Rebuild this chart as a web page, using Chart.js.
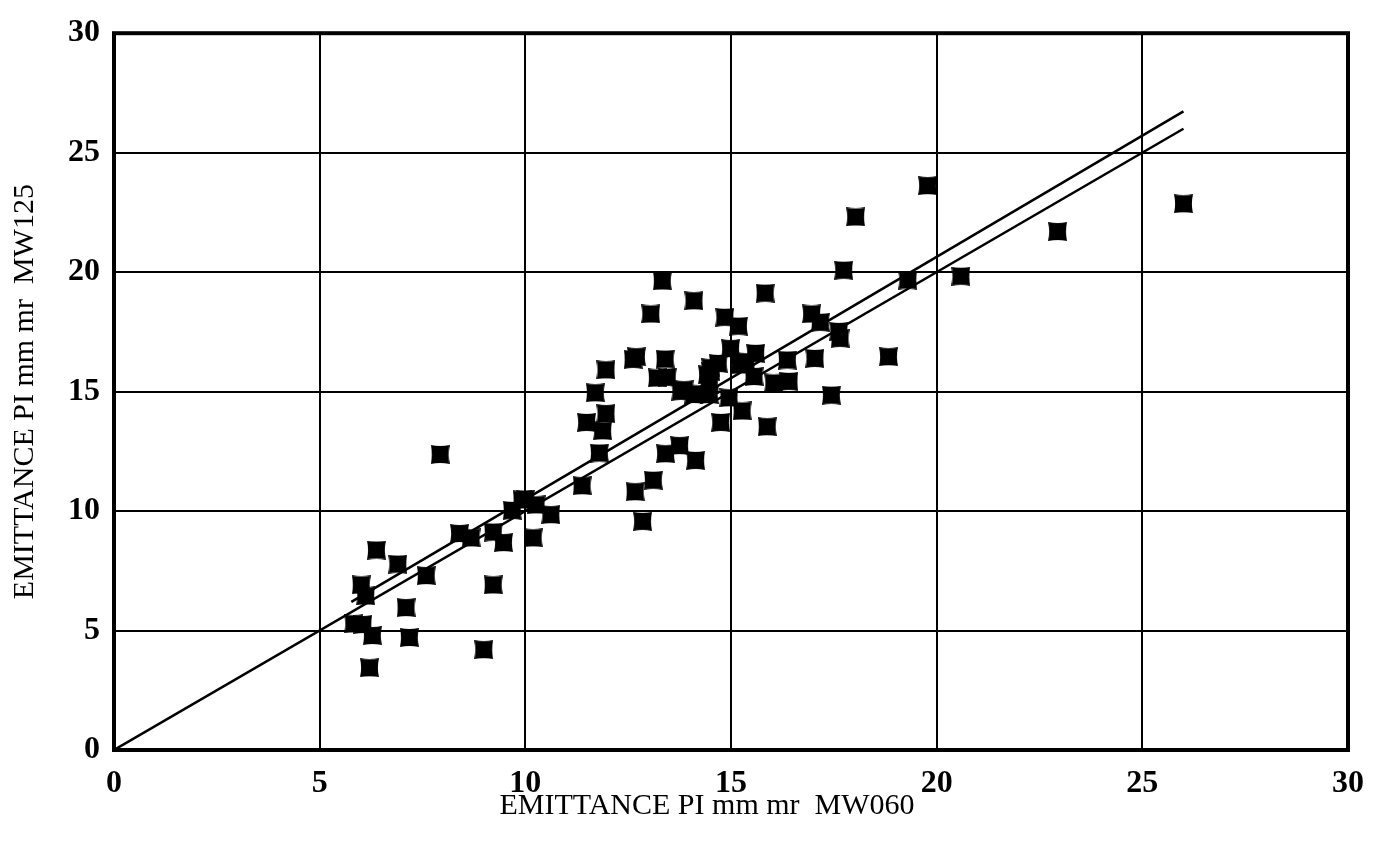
<!DOCTYPE html>
<html><head><meta charset="utf-8">
<script src="https://cdn.jsdelivr.net/npm/chart.js@4/dist/chart.umd.min.js"></script>
<style>html,body{margin:0;padding:0;background:#fff;}#wrap{width:1379px;height:841px;}</style>
</head><body><div id="wrap"><canvas id="c" width="1379" height="841"></canvas></div>
<script>
const xTicks = [0, 5, 10, 15, 20, 25, 30];
const yTicks = [0, 5, 10, 15, 20, 25, 30];
const xTitle = 'EMITTANCE PI mm mr  MW060';
const yTitle = 'EMITTANCE PI mm mr  MW125';

// measured emittance pairs (MW060 -> x, MW125 -> y)
const emitX = [
  7.93, 9.92, 9.68, 10.26, 10.62, 8.40, 8.68, 9.22, 9.47, 10.19,
  6.38, 6.90, 7.59, 6.01, 6.12, 9.22, 7.10, 5.83, 6.05, 6.28,
  7.18, 8.99, 6.21, 10.00,
  13.33, 14.10, 13.05, 12.70, 12.62, 13.40, 13.21, 13.45, 11.96, 11.70,
  13.86, 11.96, 11.49, 11.88, 11.80, 13.41, 13.75, 14.14, 11.38, 13.11,
  12.67, 12.85,
  17.74, 15.83, 14.85, 15.18, 16.96, 17.17, 17.62, 17.65, 14.99, 15.60,
  15.36, 14.51, 14.69, 16.37, 17.04, 14.43, 14.51, 15.56, 16.04, 16.41,
  14.10, 14.47, 14.95, 17.44, 15.27, 14.75, 15.88, 14.22, 14.47, 15.23,
  13.78,
  19.78, 18.03, 19.30, 20.59, 18.83, 26.00, 22.94
];
const emitY = [
  12.37, 10.47, 10.03, 10.26, 9.85, 9.06, 8.88, 9.12, 8.68, 8.88,
  8.37, 7.78, 7.30, 6.91, 6.45, 6.91, 5.96, 5.28, 5.25, 4.79,
  4.71, 4.20, 3.44, 10.50,
  19.63, 18.80, 18.25, 16.46, 16.35, 16.36, 15.57, 15.60, 15.91, 14.95,
  15.08, 14.08, 13.71, 13.36, 12.43, 12.40, 12.74, 12.12, 11.06, 11.29,
  10.81, 9.57,
  20.08, 19.12, 18.11, 17.74, 18.25, 17.90, 17.52, 17.23, 16.80, 16.60,
  16.25, 16.00, 16.18, 16.32, 16.39, 15.70, 15.84, 15.63, 15.36, 15.43,
  14.88, 14.88, 14.74, 14.85, 14.19, 13.71, 13.53, 14.90, 15.29, 16.12,
  15.01,
  23.62, 22.31, 19.67, 19.83, 16.46, 22.86, 21.70
];
// reference diagonal y = x and fitted line
const diagX = [0, 26];
const diagY = [0, 26];
const fitX = [5.77, 26.0];
const fitY = [6.2, 26.73];

const FONT = "'Liberation Serif', 'Times New Roman', serif";

function makeMarker(s) {
  const c = document.createElement('canvas');
  c.width = s; c.height = s;
  const g = c.getContext('2d');
  const d = 2.2;
  g.fillStyle = '#000';
  g.beginPath();
  g.moveTo(0, 0);
  g.quadraticCurveTo(s / 2, d, s, 0);
  g.quadraticCurveTo(s - d, s / 2, s, s);
  g.quadraticCurveTo(s / 2, s - d, 0, s);
  g.quadraticCurveTo(d, s / 2, 0, 0);
  g.closePath();
  g.fill();
  return c;
}
const marker = makeMarker(19);

const pts = (xs, ys) => xs.map((v, i) => ({x: v, y: ys[i]}));

const framePlugin = {
  id: 'frame',
  afterDraw(chart) {
    const {ctx, chartArea: a} = chart;
    ctx.save();
    ctx.strokeStyle = '#000';
    ctx.lineWidth = 4;
    ctx.strokeRect(a.left, a.top, a.right - a.left, a.bottom - a.top);
    // x-axis title (slightly left of centre, as in the source figure)
    ctx.fillStyle = '#000';
    ctx.font = "30px " + FONT;
    ctx.textAlign = 'center';
    ctx.textBaseline = 'middle';
    ctx.fillText(xTitle, (a.left + a.right) / 2 - 24, a.bottom + 56);
    ctx.restore();
  }
};

new Chart(document.getElementById('c'), {
  type: 'scatter',
  data: {
    datasets: [
      {data: pts(diagX, diagY), showLine: true, borderColor: '#000', borderWidth: 2.5, pointRadius: 0, order: 2},
      {data: pts(fitX, fitY), showLine: true, borderColor: '#000', borderWidth: 2.5, pointRadius: 0, order: 2},
      {data: pts(emitX, emitY), pointStyle: marker, pointRadius: 10, backgroundColor: '#000', borderColor: '#000', order: 1}
    ]
  },
  options: {
    responsive: false,
    animation: false,
    devicePixelRatio: 1,
    layout: {padding: {top: 24, right: 30, left: 0, bottom: 0}},
    plugins: {legend: {display: false}, tooltip: {enabled: false}},
    scales: {
      x: {
        type: 'linear', min: 0, max: 30,
        afterBuildTicks: s => { s.ticks = xTicks.map(v => ({value: v})); },
        afterFit: s => { s.height = 91; },
        ticks: {color: '#000', padding: 15, font: {family: FONT, size: 32, weight: 'bold'}},
        grid: {color: '#000', lineWidth: 2, drawTicks: false},
        border: {display: false},
        title: {display: false}
      },
      y: {
        type: 'linear', min: 0, max: 30,
        afterBuildTicks: s => { s.ticks = yTicks.map(v => ({value: v})); },
        afterFit: s => { s.width = 114; },
        ticks: {color: '#000', padding: 14, font: {family: FONT, size: 32, weight: 'bold'}},
        grid: {color: '#000', lineWidth: 2, drawTicks: false},
        border: {display: false},
        title: {display: true, text: yTitle, color: '#000', padding: {top: 7, bottom: 0}, font: {family: FONT, size: 30}}
      }
    }
  },
  plugins: [framePlugin]
});
</script>
</body></html>
